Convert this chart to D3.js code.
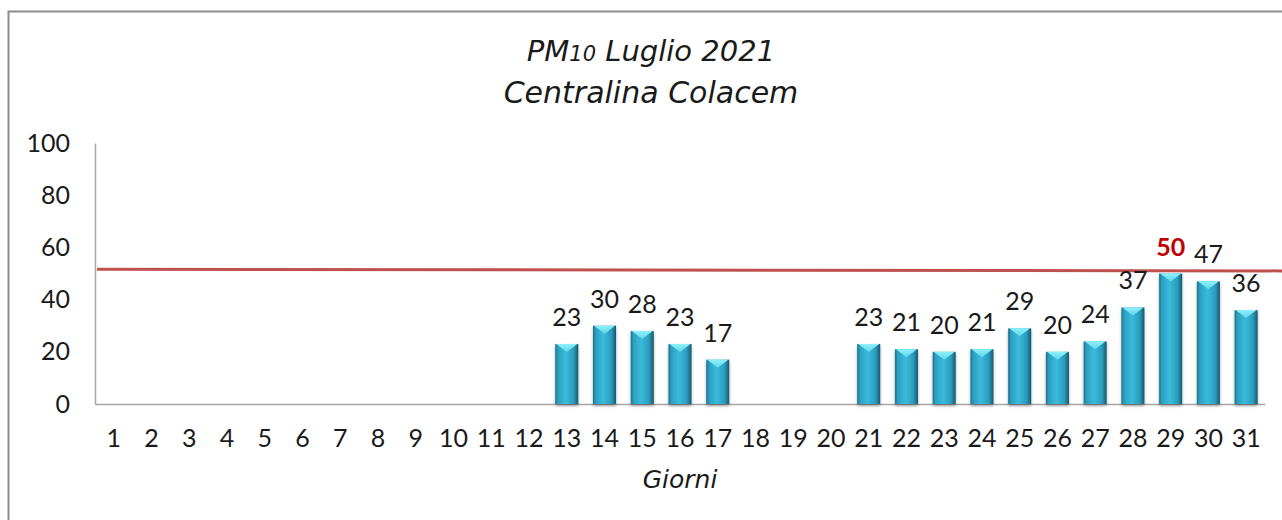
<!DOCTYPE html>
<html>
<head>
<meta charset="utf-8">
<script src="https://cdn.jsdelivr.net/npm/d3@7"></script>
<style>
  body { margin: 0; background: #fff; }
  svg text { font-family: Lato, "Liberation Sans", sans-serif; fill: #1a1a1a; }
  svg text.tit { font-family: "DejaVu Sans", sans-serif; }
</style>
</head>
<body>
<svg id="chart" width="1282" height="520"></svg>
<script>
// giorni di luglio e valori PM10 (null = dato mancante)
const days = d3.range(1, 32).map(String)
const pm10 = [null, null, null, null, null, null, null, null, null, null, null, null,
  23, 30, 28, 23, 17, null, null, null,
  23, 21, 20, 21, 29, 20, 24, 37, 50, 47, 36]
const yTicks = [0, 20, 40, 60, 80, 100]
const limitLine = [51.6, 51.0] // linea rossa, inizio e fine
const highlightDay = '29'

const svg = d3.select('#chart')
const margin = {top: 143, right: 17, bottom: 116, left: 95}
const W = 1282, H = 520

// cornice esterna
svg.append('rect')
  .attr('x', 8.5).attr('y', 11.5)
  .attr('width', W).attr('height', H)
  .attr('fill', 'none').attr('stroke', '#8c8c8c').attr('stroke-width', 2)

const scX = d3.scaleBand().domain(days)
  .range([margin.left, W - margin.right])
  .paddingInner(0.39).paddingOuter(0.195)
const scY = d3.scaleLinear().domain([0, 100]).range([H - margin.bottom, margin.top])

// defs: gradiente barre e ombra
const defs = svg.append('defs')
const grad = defs.append('linearGradient').attr('id', 'barGrad')
  .attr('x1', '0%').attr('x2', '100%').attr('y1', '0%').attr('y2', '0%')
grad.append('stop').attr('offset', '0%').attr('stop-color', '#1d6f8a')
grad.append('stop').attr('offset', '12%').attr('stop-color', '#2b9fc0')
grad.append('stop').attr('offset', '45%').attr('stop-color', '#3bbbdb')
grad.append('stop').attr('offset', '80%').attr('stop-color', '#2a9cbd')
grad.append('stop').attr('offset', '100%').attr('stop-color', '#17566c')
const topGrad = defs.append('linearGradient').attr('id', 'topGrad')
  .attr('x1', '0%').attr('x2', '0%').attr('y1', '0%').attr('y2', '100%')
topGrad.append('stop').attr('offset', '0%').attr('stop-color', '#8ef0fb')
topGrad.append('stop').attr('offset', '100%').attr('stop-color', '#5fd6ec')
const shadow = defs.append('filter').attr('id', 'shadow')
  .attr('x', '-30%').attr('y', '-10%').attr('width', '160%').attr('height', '130%')
shadow.append('feDropShadow').attr('dx', 0).attr('dy', 2).attr('stdDeviation', 1.5)
  .attr('flood-color', '#000').attr('flood-opacity', 0.35)

// assi
const yAxis = d3.axisLeft(scY).tickValues(yTicks).tickSize(0).tickPadding(25)
const gy = svg.append('g').attr('transform', `translate(${margin.left},0)`).call(yAxis)
gy.select('.domain').attr('stroke', '#a6a6a6').attr('stroke-width', 1.5)
gy.selectAll('text').attr('font-size', 25).attr('fill', '#1a1a1a')

const xAxis = d3.axisBottom(scX).tickSize(0).tickPadding(25)
const gx = svg.append('g').attr('transform', `translate(0,${scY(0)})`).call(xAxis)
gx.select('.domain').attr('stroke', '#a6a6a6').attr('stroke-width', 1.5)
gx.selectAll('text').attr('font-size', 25).attr('fill', '#1a1a1a')
gy.raise()

// barre
const data = days.map((d, i) => ({day: d, v: pm10[i]})).filter(d => d.v != null)
const bw = scX.bandwidth()
const bars = svg.append('g').selectAll('g').data(data).enter().append('g')
  .attr('filter', 'url(#shadow)')
bars.append('rect')
  .attr('x', d => scX(d.day))
  .attr('y', d => scY(d.v))
  .attr('width', bw)
  .attr('height', d => scY(0) - scY(d.v))
  .attr('fill', 'url(#barGrad)')
bars.append('path')
  .attr('d', d => {
    const x = scX(d.day), y = scY(d.v)
    return `M${x + 1},${y} L${x + bw - 1},${y} L${x + bw / 2},${y + 8} Z`
  })
  .attr('fill', 'url(#topGrad)')

// linea limite
svg.append('line')
  .attr('x1', margin.left + 2).attr('x2', W)
  .attr('y1', scY(limitLine[0])).attr('y2', scY(limitLine[1]))
  .attr('stroke', '#c0504d').attr('stroke-width', 3)

// etichette valori
svg.append('g').selectAll('text').data(data).enter().append('text')
  .attr('x', d => scX(d.day) + bw / 2)
  .attr('y', d => scY(d.v) - 18)
  .attr('text-anchor', 'middle')
  .attr('font-size', 25)
  .attr('font-weight', d => d.day === highlightDay ? 'bold' : 'normal')
  .style('fill', d => d.day === highlightDay ? '#c00000' : '#1a1a1a')
  .text(d => d.v)

// titolo
const title = svg.append('text').attr('class', 'tit').attr('x', 651).attr('y', 61)
  .attr('text-anchor', 'middle').attr('font-size', 29).attr('font-style', 'italic')
title.append('tspan').text('PM')
title.append('tspan').attr('font-size', 21).text('10')
title.append('tspan').text(' Luglio 2021')
svg.append('text').attr('class', 'tit').attr('x', 651).attr('y', 103)
  .attr('text-anchor', 'middle').attr('font-size', 30).attr('font-style', 'italic')
  .text('Centralina Colacem')

// titolo asse x
svg.append('text').attr('class', 'tit').attr('x', 680).attr('y', 488)
  .attr('text-anchor', 'middle').attr('font-size', 25).attr('font-style', 'italic')
  .text('Giorni')
</script>
</body>
</html>
